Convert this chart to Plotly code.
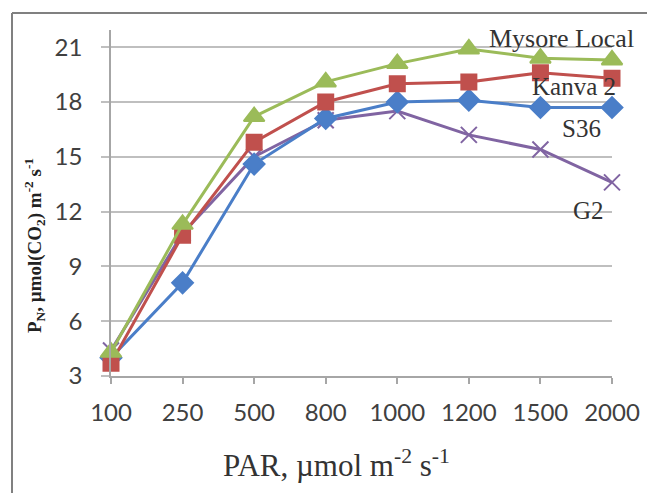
import plotly.graph_objects as go

par_levels = ["100", "250", "500", "800", "1000", "1200", "1500", "2000"]
mysore_local = [4.3, 11.3, 17.2, 19.1, 20.1, 20.9, 20.4, 20.3]
kanva_2 = [3.7, 10.7, 15.8, 18.0, 19.0, 19.1, 19.6, 19.3]
s36 = [4.0, 8.1, 14.6, 17.1, 18.0, 18.1, 17.7, 17.7]
g2 = [4.4, 10.8, 15.0, 17.0, 17.5, 16.2, 15.4, 13.6]

series = [
    ("G2", g2, "#8064A2", "x-thin", 16),
    ("S36", s36, "#4A7EC8", "diamond", 16),
    ("Kanva 2", kanva_2, "#C0504D", "square", 15),
    ("Mysore Local", mysore_local, "#9BBB59", "triangle-up", 18),
]

fig = go.Figure()
for name, vals, col, sym, sz in series:
    fig.add_trace(go.Scatter(
        x=par_levels, y=vals, mode="lines+markers", name=name,
        line=dict(color=col, width=3),
        marker=dict(symbol=sym, size=sz, color=col,
                    line=dict(color=col, width=2)),
        showlegend=False, cliponaxis=False,
    ))

W, H = 647, 493
L, R, T, B = 111, 35, 30, 117
pw, ph = W - L - R, H - T - B

def px(x):
    return (x - L) / pw

def py(y):
    return (H - B - y) / ph

fig.update_layout(
    width=W, height=H,
    margin=dict(l=L, r=R, t=T, b=B, autoexpand=False),
    paper_bgcolor="white", plot_bgcolor="white",
    font=dict(family="Lato, Liberation Sans, sans-serif", color="#404040"),
)
fig.update_xaxes(
    type="category", range=[0, 7], automargin=False,
    showgrid=False, showline=True, linecolor="#A6A6A6", linewidth=1.5,
    ticks="outside", ticklen=6, tickcolor="#A6A6A6", tickwidth=1.5,
    tickfont=dict(size=24, color="#404040"), ticklabelstandoff=8,
)
fig.update_yaxes(
    range=[3, 21.94], tickvals=[3, 6, 9, 12, 15, 18, 21], automargin=False,
    showgrid=True, gridcolor="#BFBFBF", gridwidth=1.5,
    showline=True, linecolor="#A6A6A6", linewidth=1.5,
    ticks="outside", ticklen=8, tickcolor="#BFBFBF", tickwidth=1.5,
    tickfont=dict(size=24, color="#404040"), ticklabelstandoff=14,
    zeroline=False,
)

serif = "Liberation Serif, Times New Roman, serif"
labels = [
    ("Mysore Local", 561, 38, 26),
    ("Kanva 2", 574, 87, 25),
    ("S36", 581, 128, 25),
    ("G2", 588, 210, 25),
]
for txt, xx, yy, fs in labels:
    fig.add_annotation(text=txt, x=px(xx), y=py(yy), xref="paper", yref="paper",
                       showarrow=False, xanchor="center", yanchor="middle",
                       font=dict(family=serif, size=fs, color="#333333"))

fig.add_annotation(text="PAR, µmol m<sup>-2</sup> s<sup>-1</sup>", x=px(336), y=py(463),
                   xref="paper", yref="paper", showarrow=False,
                   xanchor="center", yanchor="middle",
                   font=dict(family=serif, size=31, color="#333333"))
fig.add_annotation(text="<b>P<sub>N</sub>, µmol(CO<sub>2</sub>) m<sup>-2</sup> s<sup>-1</sup></b>",
                   x=px(34), y=py(246), xref="paper", yref="paper", textangle=-90,
                   showarrow=False, xanchor="center", yanchor="middle",
                   font=dict(family=serif, size=19, color="#222222"))

fig.add_shape(type="line", xref="paper", yref="paper", x0=px(12), x1=px(648),
              y0=py(13), y1=py(13), line=dict(color="#808080", width=2))
fig.add_shape(type="line", xref="paper", yref="paper", x0=px(12), x1=px(12),
              y0=py(13), y1=py(495), line=dict(color="#808080", width=2))

fig.write_html("out.html")
